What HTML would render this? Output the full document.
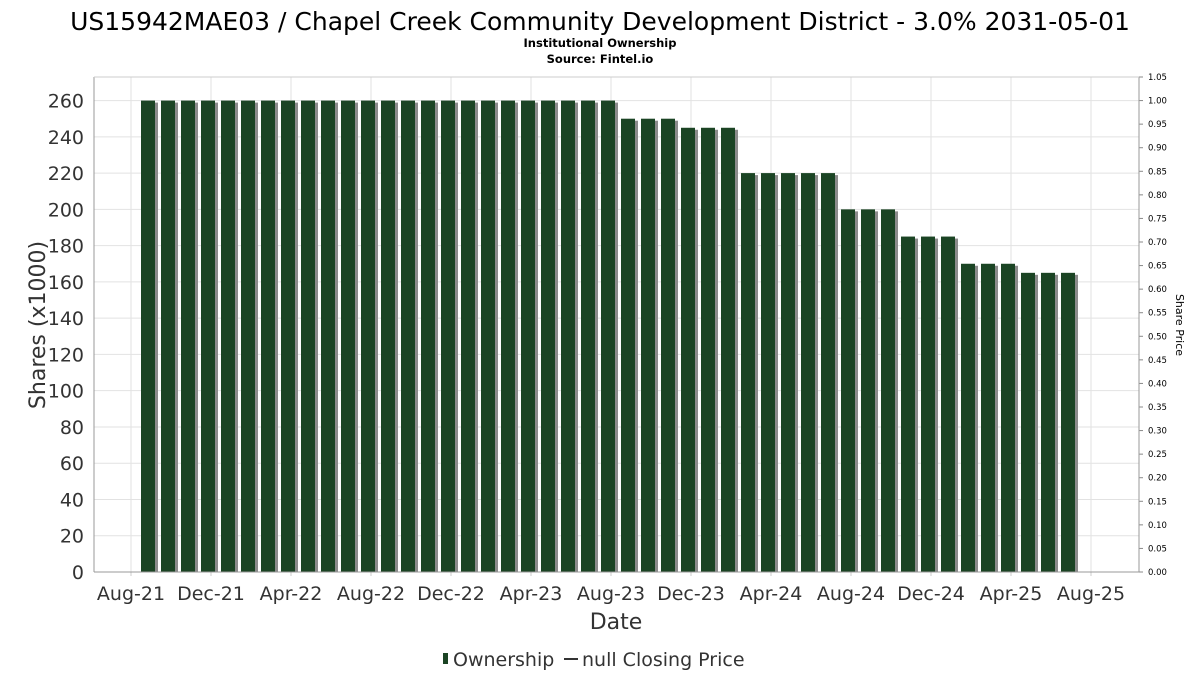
<!DOCTYPE html>
<html><head><meta charset="utf-8"><style>
body{margin:0;background:#fff;font-family:"DejaVu Sans","Liberation Sans",sans-serif;}
</style></head><body>
<svg width="1200" height="675" xmlns="http://www.w3.org/2000/svg">
<text x="600" y="30" text-anchor="middle" font-size="25" fill="#000">US15942MAE03 / Chapel Creek Community Development District - 3.0% 2031-05-01</text>
<text x="600" y="47" text-anchor="middle" font-size="11.5" font-weight="bold">Institutional Ownership</text>
<text x="600" y="63" text-anchor="middle" font-size="11.5" font-weight="bold">Source: Fintel.io</text>
<g id="grid"></g>
<g id="bars"></g>
<g id="axes"></g>
<text x="45" y="325" text-anchor="middle" font-size="22" fill="#333" transform="rotate(-90 45 325)">Shares (x1000)</text>
<text x="1176" y="325" text-anchor="middle" font-size="11" fill="#000" transform="rotate(90 1176 325)">Share Price</text>
<text x="616" y="629" text-anchor="middle" font-size="22" fill="#333">Date</text>
<g>
<rect x="443" y="653" width="5" height="11" fill="#1b4424"/>
<text x="453" y="666" font-size="19" fill="#333">Ownership</text>
<line x1="564" y1="659" x2="578" y2="659" stroke="#333" stroke-width="2"/>
<text x="582" y="666" font-size="19" fill="#333">null Closing Price</text>
</g>
</svg>
<script>
const ownership=[260,260,260,260,260,260,260,260,260,260,260,260,260,260,260,260,260,260,260,260,260,260,260,260,250,250,250,245,245,245,220,220,220,220,220,200,200,200,185,185,185,170,170,170,165,165,165];
const xTickLabels=["Aug-21","Dec-21","Apr-22","Aug-22","Dec-22","Apr-23","Aug-23","Dec-23","Apr-24","Aug-24","Dec-24","Apr-25","Aug-25"];
const yTicks=[0,20,40,60,80,100,120,140,160,180,200,220,240,260];
const priceTicks=[0,0.05,0.1,0.15,0.2,0.25,0.3,0.35,0.4,0.45,0.5,0.55,0.6,0.65,0.7,0.75,0.8,0.85,0.9,0.95,1.0,1.05];
const NS="http://www.w3.org/2000/svg";
const L=94,R=1139,T=77,B=572,yMax=273,pMax=1.05;
const y=v=>B-(v/yMax)*(B-T);
const yp=v=>B-(v/pMax)*(B-T);
const xm=i=>131+i*20; // month index from Aug-21
function mk(t,a,p){const e=document.createElementNS(NS,t);for(const k in a)e.setAttribute(k,a[k]);p.appendChild(e);return e;}
const grid=document.getElementById('grid'),bars=document.getElementById('bars'),axes=document.getElementById('axes');
mk('rect',{x:L,y:T,width:R-L,height:B-T,fill:'#fff',stroke:'none'},grid);
yTicks.forEach(v=>{
 const g=mk('line',{x1:L,x2:R,y1:y(v),y2:y(v),stroke:'#e2e2e2'},grid);
 
 
 const t=mk('text',{x:84,y:y(v)+7,'text-anchor':'end','font-size':19,fill:'#333'},axes);
 t.textContent=v;
 
 
});
xTickLabels.forEach((s,i)=>{
 const x=xm(i*4);
 const g=mk('line',{x1:x,x2:x,y1:T,y2:B,stroke:'#e2e2e2'},grid);
 
 
 mk('line',{x1:x,x2:x,y1:B,y2:B+4,stroke:'#ccc'},axes);
 const t=mk('text',{x:x,y:600,'text-anchor':'middle','font-size':19,fill:'#333'},axes);
 t.textContent=s;
 
 
});
priceTicks.forEach(v=>{
 mk('line',{x1:R,x2:R+4,y1:yp(v),y2:yp(v),stroke:'#888'},axes);
 const t=mk('text',{x:R+9,y:yp(v)+3,'font-size':8.5,fill:'#000'},axes);
 t.textContent=v.toFixed(2);
 
 
});
ownership.forEach((v,i)=>{
 const x=xm(i+1)-10;
 mk('rect',{x:x+3,y:y(v)+2,width:14,height:B-y(v)-2,fill:'#8c8c8c'},bars);
 const r=mk('rect',{x:x,y:y(v),width:14,height:B-y(v),fill:'#1b4424'},bars);
 
 
});
mk('line',{x1:L,x2:L,y1:T,y2:B,stroke:'#999'},axes);
mk('line',{x1:R,x2:R,y1:T,y2:B,stroke:'#999'},axes);
mk('line',{x1:L,x2:R,y1:B,y2:B,stroke:'#999'},axes);
mk('line',{x1:L,x2:R,y1:T,y2:T,stroke:'#ccc'},axes);
</script>
</body></html>
